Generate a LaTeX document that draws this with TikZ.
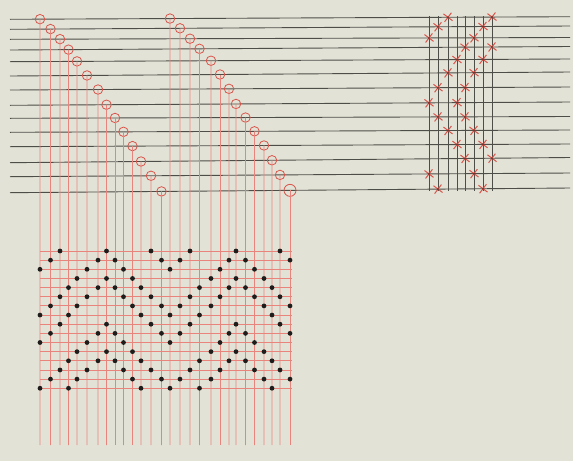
\documentclass[tikz,border=0pt]{standalone}
\usetikzlibrary{calc,shapes.misc}

\definecolor{paper}{HTML}{E3E2D6}
\definecolor{ink}{HTML}{4E4E48}
\definecolor{redink}{HTML}{D9544A}
\definecolor{palered}{HTML}{E8847C}
\definecolor{dotink}{HTML}{1E1D1B}

\tikzset{
  shaft/.style={draw=ink, line width=0.9pt},
  warp/.style={draw=palered, line width=0.9pt},
  weft/.style={draw=palered, line width=0.9pt},
  heddle/.style={circle, draw=redink, line width=0.8pt, inner sep=0pt},
  treadle/.style={draw=ink, line width=0.6pt},
  tie/.style={draw=redink, cross out, line width=1pt, minimum size=7pt, inner sep=0pt, rotate=8},
  knot/.style={circle, fill=redink!60!black, minimum size=2.4pt, inner sep=0pt},
  pick/.style={circle, fill=dotink, minimum size=4.8pt, inner sep=0pt}
}

\begin{document}
\begin{tikzpicture}[x=1pt, y=-1pt]

% ---------- paper ----------
\fill[paper] (0,0) rectangle (573,461);
\useasboundingbox (0,0) rectangle (573,461);

% ---------- shafts ----------
\foreach \i/\yl/\yr in {1/19.3/16.7, 2/29.3/26, 3/39.3/37.5, 4/50/46.5, 5/61.7/59,
    6/76/72, 7/90/87, 8/105.3/102, 9/118.3/116.5, 10/132.3/130, 11/146.7/144,
    12/162.7/157.5, 13/176.7/173, 14/192.7/188}{
  \coordinate (sL\i) at (10,\yl);
  \coordinate (sR\i) at (570,\yr);
  \draw[shaft] (sL\i) -- (sR\i);
}

% ---------- threading (heddles and warp ends) ----------
\foreach \x [count=\c] in {40,50.5,60,68.5,77,87,98,106.5,115,123.5,132.5,141,151,161.5,
    170,180,190,199.5,211,220,229,236,245.5,254.5,264,272,280,290}{
  \pgfmathtruncatemacro\s{mod(\c-1,14)+1}
  \pgfmathsetmacro\hs{\c==28 ? 12 : 9.5}
  \node[heddle, minimum size=\hs pt] (h\c) at ($(sL\s)!{(\x-10)/560}!(sR\s)$) {};
  \coordinate (b\c) at (\x,445);
  \draw[warp] (h\c.center) -- (b\c);
}

% ---------- picks ----------
\foreach \r in {1,...,16}{
  \coordinate (wl\r) at (40,{251+9.15*(\r-1)});
  \coordinate (wr\r) at (292,{251+9.15*(\r-1)});
  \draw[weft] (wl\r) -- (wr\r);
}

% ---------- treadles ----------
\foreach \x [count=\t] in {429,438,448,457,465,474,483,492}{
  \coordinate (tt\t) at (\x,16);
  \coordinate (tb\t) at (\x,191);
  \draw[treadle] (tt\t) -- (tb\t);
}

% ---------- tie-up and drawdown ----------
\foreach \t/\tx/\lift in {1/429/{3,8,13}, 2/438/{2,7,9,14}, 3/448/{1,6,10}, 4/457/{5,8,11},
    5/465/{4,7,9,12}, 6/474/{3,6,10,13}, 7/483/{2,5,11,14}, 8/492/{1,4,12}}{
  \foreach \s in \lift {
    \node[tie] (x\t-\s) at ($(sL\s)!{(\tx-10)/560}!(sR\s)$) {};
    \node[knot] at (x\t-\s) {};
    \foreach \rep in {0,8}{
      \foreach \g in {0,14}{
        \pgfmathtruncatemacro\r{\t+\rep}
        \pgfmathtruncatemacro\c{\s+\g}
        \node[pick] (p\r-\c) at (h\c |- wl\r) {};
      }
    }
  }
}

\end{tikzpicture}
\end{document}
